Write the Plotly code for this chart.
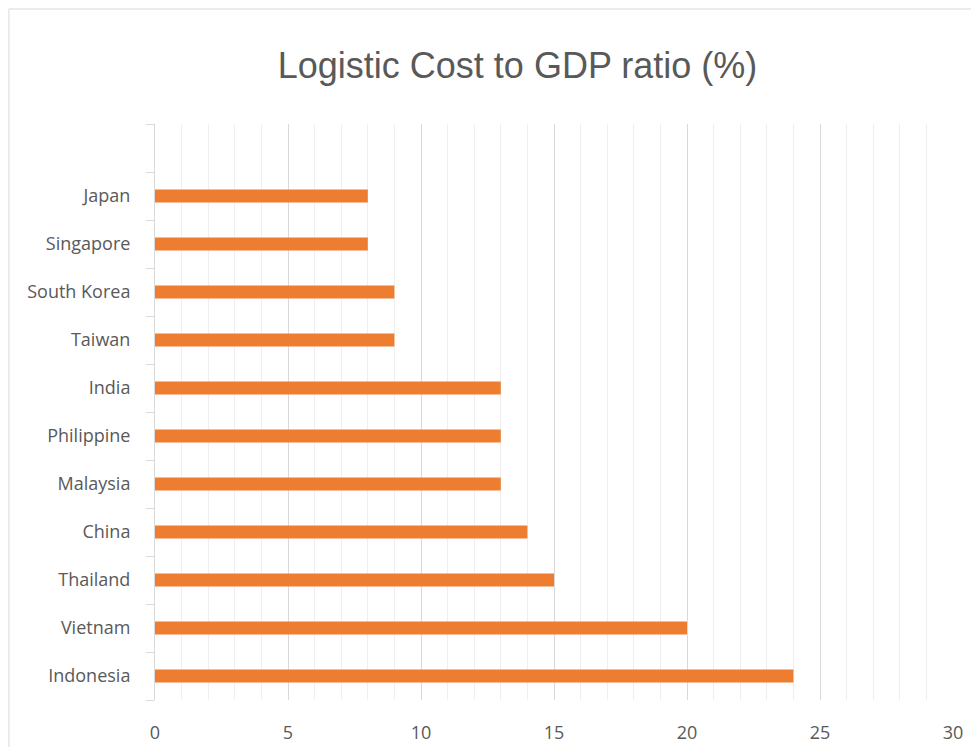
import plotly.graph_objects as go

countries = ["Indonesia", "Vietnam", "Thailand", "China", "Malaysia", "Philippine",
             "India", "Taiwan", "South Korea", "Singapore", "Japan"]
values = [24, 20, 15, 14, 13, 13, 13, 9, 9, 8, 8]
x_ticks = [0, 5, 10, 15, 20, 25, 30]
title = "Logistic Cost to GDP ratio (%)"

fig = go.Figure(go.Bar(
    x=values, y=countries, orientation="h",
    marker=dict(color="#ED7D31", line=dict(width=0)),
    width=0.27, hoverinfo="x+y",
))
# empty slot at the top of the category axis
fig.add_trace(go.Bar(x=[None], y=[" "], orientation="h", hoverinfo="skip",
                     marker=dict(color="rgba(0,0,0,0)")))

fig.update_layout(
    width=971, height=747,
    margin=dict(l=155, r=18, t=124, b=47, autoexpand=False),
    paper_bgcolor="white", plot_bgcolor="white",
    showlegend=False, barmode="overlay",
    font=dict(family="Open Sans, sans-serif", color="#595959", size=18),
    title=dict(text=title, x=0.533, xanchor="center", y=0.913, yanchor="middle",
               font=dict(family="Liberation Sans Narrow, Arial Narrow, Liberation Sans, sans-serif",
                         size=36, color="#595959")),
    xaxis=dict(range=[0, 30], tickvals=x_ticks, showgrid=True, gridcolor="#d9d9d9",
               gridwidth=1, zeroline=False, showline=False, ticks="",
               ticklabelstandoff=20, automargin=False,
               minor=dict(dtick=1, showgrid=True, gridcolor="#eeeeee", gridwidth=1),
               tickfont=dict(size=18, color="#595959"), fixedrange=True),
    yaxis=dict(categoryorder="array", categoryarray=countries + [" "],
               range=[-0.5, 11.5], automargin=False,
               showline=True, linecolor="#d9d9d9", linewidth=1,
               ticks="outside", tickson="boundaries", ticklen=8, tickcolor="#d9d9d9",
               ticklabelstandoff=20,
               showgrid=False, tickfont=dict(size=18, color="#595959"), fixedrange=True),
    shapes=[dict(type="rect", xref="paper", yref="paper",
                 x0=-0.183, x1=1.03, y0=-0.09, y1=1.1997,
                 line=dict(color="#d9d9d9", width=1), fillcolor="rgba(0,0,0,0)",
                 layer="below")],
)

fig.write_html("out.html")
